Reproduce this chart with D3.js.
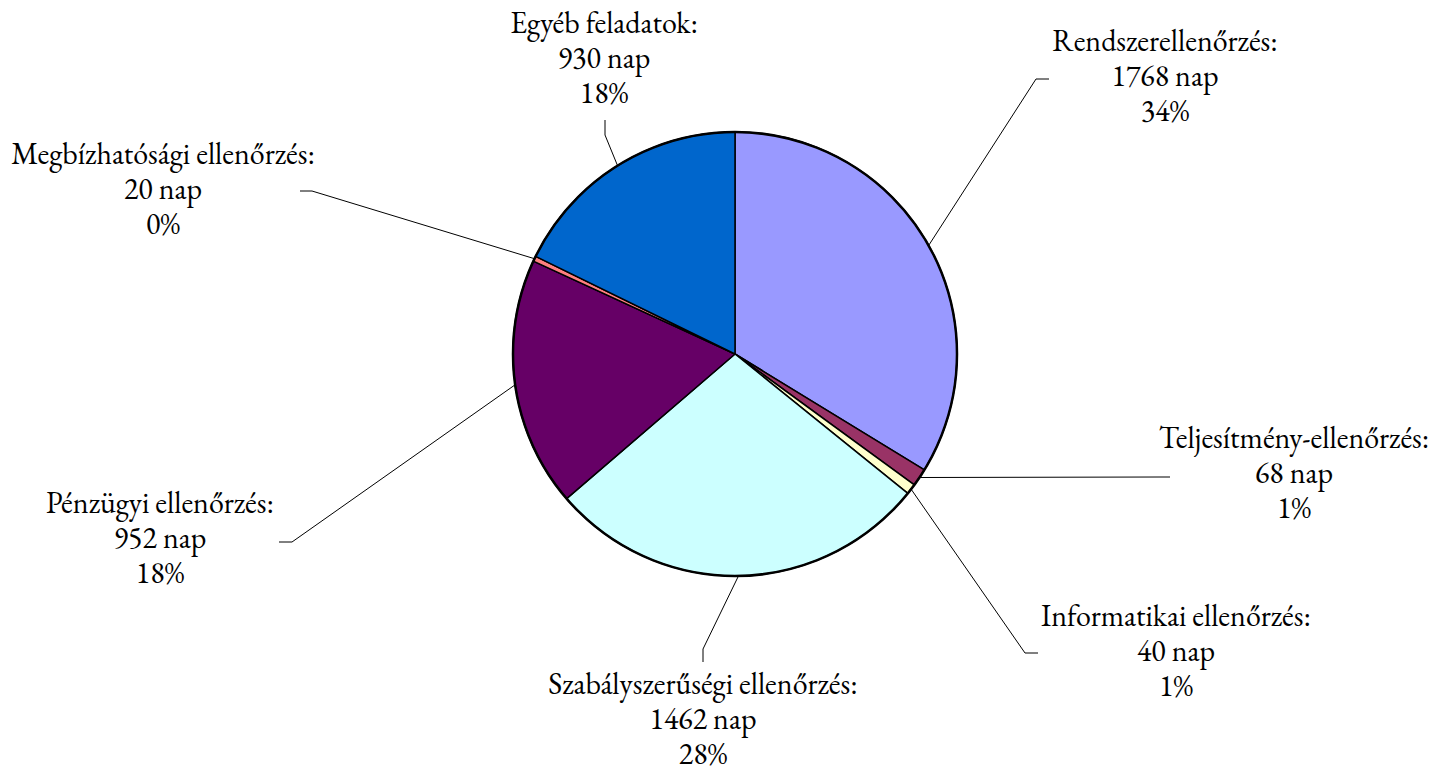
<!DOCTYPE html>
<html>
<head>
<meta charset="utf-8">
<script src="https://cdn.jsdelivr.net/npm/d3@7"></script>
<style>
  html, body { margin: 0; padding: 0; background: #fff; }
</style>
</head>
<body>
<div id="chart"><svg></svg></div>
<script>
// data
let categories = ["Rendszerellenőrzés", "Teljesítmény-ellenőrzés", "Informatikai ellenőrzés",
    "Szabályszerűségi ellenőrzés", "Pénzügyi ellenőrzés", "Megbízhatósági ellenőrzés", "Egyéb feladatok"];
let days = [1768, 68, 40, 1462, 952, 20, 930];
let colors = ["#9999FF", "#993366", "#FFFFCC", "#CCFFFF", "#660066", "#FF8080", "#0066CC"];

// where each label sits (centre x, first baseline) and how its leader line bends
let labelLayout = [
    {x: 1165, y: 51,  elbow: [1036, 79],  end: [1049, 79]},
    {x: 1294, y: 448, elbow: [1160, 477], end: [1170, 477]},
    {x: 1176, y: 626, elbow: [1025, 653], end: [1038, 653]},
    {x: 703,  y: 694, elbow: [703, 649],  end: [703, 662]},
    {x: 160,  y: 513, elbow: [292, 542],  end: [279, 542]},
    {x: 163,  y: 164, elbow: [312, 191],  end: [300, 191]},
    {x: 604,  y: 33,  elbow: [605, 135],  end: [605, 120]}
];

let width = 1452, height = 772;
let cx = 735, cy = 354, radius = 222;
let lineStep = 35;
let labelFont = "'EB Garamond', Garamond, 'Times New Roman', serif";

let svg = d3.select("#chart").select("svg")
    .attr("width", width)
    .attr("height", height);

let total = d3.sum(days);
let slices = days.map(function(d, i){
    return {name: categories[i], value: d, color: colors[i], layout: labelLayout[i]};
});

let pie = d3.pie()
    .sort(null)
    .value(function(d){ return d.value; });

let arc = d3.arc()
    .innerRadius(0)
    .outerRadius(radius);

let arcs = pie(slices);

let g = svg.append("g")
    .attr("transform", "translate(" + cx + "," + cy + ")");

g.selectAll("path.slice")
    .data(arcs)
    .enter()
    .append("path")
    .attr("class", "slice")
    .attr("d", arc)
    .attr("fill", function(d){ return d.data.color; })
    .attr("stroke", "#000")
    .attr("stroke-width", 1.5)
    .attr("stroke-linejoin", "round");

// heavier outer rim
g.append("circle")
    .attr("r", radius)
    .attr("fill", "none")
    .attr("stroke", "#000")
    .attr("stroke-width", 2.5);

// leader lines start on the rim at the middle angle of each slice
svg.selectAll("polyline.leader")
    .data(arcs)
    .enter()
    .append("polyline")
    .attr("class", "leader")
    .attr("fill", "none")
    .attr("stroke", "#000")
    .attr("stroke-width", 1)
    .attr("points", function(d){
        let mid = (d.startAngle + d.endAngle) / 2;
        let sx = cx + radius * Math.sin(mid);
        let sy = cy - radius * Math.cos(mid);
        let L = d.data.layout;
        return [[sx, sy], L.elbow, L.end].map(function(p){ return p.join(","); }).join(" ");
    });

let labels = svg.selectAll("text.pie-label")
    .data(arcs)
    .enter()
    .append("text")
    .attr("class", "pie-label")
    .style("font-family", labelFont)
    .style("font-size", "30px")
    .attr("fill", "#000")
    .attr("text-anchor", "middle");

labels.each(function(d){
    let t = d3.select(this);
    let L = d.data.layout;
    let pct = Math.round(d.data.value / total * 100) + "%";
    let lines = [d.data.name + ":", d.data.value + " nap", pct];
    lines.forEach(function(s, i){
        t.append("tspan")
            .attr("x", L.x)
            .attr("y", L.y + i * lineStep)
            .text(s);
    });
});
</script>
</body>
</html>
